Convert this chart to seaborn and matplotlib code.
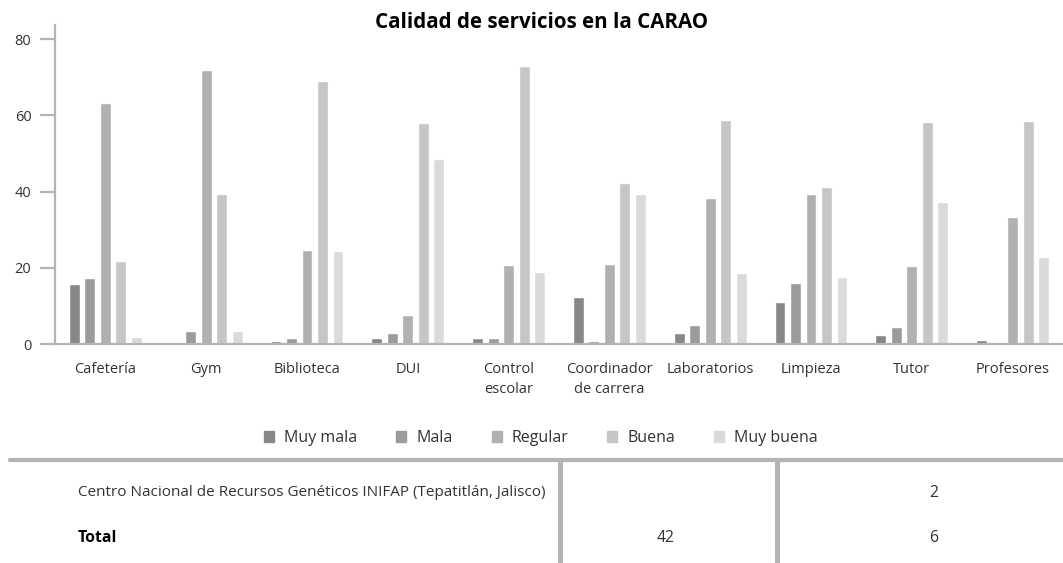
import pandas as pd
import matplotlib
matplotlib.use('Agg')
import matplotlib.pyplot as plt
from matplotlib.lines import Line2D
from matplotlib.patches import Patch
import seaborn as sns

# Datos (porcentaje por servicio)
servicios = ['Cafetería', 'Gym', 'Biblioteca', 'DUI', 'Control\nescolar',
             'Coordinador\nde carrera', 'Laboratorios', 'Limpieza', 'Tutor', 'Profesores']
niveles = ['Muy mala', 'Mala', 'Regular', 'Buena', 'Muy buena']
muy_mala = [15.7, 0, 0.8, 1.6, 1.6, 12.3, 2.9, 11.0, 2.4, 1.0]
mala = [17.3, 3.4, 1.6, 2.9, 1.6, 0.8, 5.0, 16.0, 4.5, 0.5]
regular = [63.3, 71.9, 24.7, 7.6, 20.7, 21.0, 38.3, 39.4, 20.5, 33.3]
buena = [21.8, 39.4, 69.0, 58.0, 73.0, 42.3, 58.8, 41.2, 58.3, 58.5]
muy_buena = [1.8, 3.4, 24.4, 48.6, 18.9, 39.4, 18.6, 17.6, 37.3, 22.8]
colores = ['#878787', '#9b9b9b', '#b0b0b0', '#c6c6c6', '#dadada']

# Tabla inferior
fila_centro = 'Centro Nacional de Recursos Genéticos INIFAP (Tepatitlán, Jalisco)'
total_col1 = '42'
total_col2 = '6'
centro_col2 = '2'

rows = []
for nivel, valores in zip(niveles, [muy_mala, mala, regular, buena, muy_buena]):
    for s, v in zip(servicios, valores):
        rows.append({'Servicio': s, 'Calificación': nivel, 'Valor': v})
df = pd.DataFrame(rows)

sns.set_theme(style='white')
plt.rcParams['font.family'] = ['Open Sans', 'DejaVu Sans']

W, H = 1063, 563
fig = plt.figure(figsize=(W / 100, H / 100), dpi=100)
ax = fig.add_axes([55 / W, 1 - 344 / H, 1 - 55 / W, (344 - 25) / H])

sns.barplot(data=df, x='Servicio', y='Valor', hue='Calificación', order=servicios,
            hue_order=niveles, palette=colores, width=0.77, gap=0.3,
            errorbar=None, legend=False, ax=ax, saturation=1)

ax.set_xlim(-0.5, 9.5)
ax.set_ylim(0, 83.7)
ax.set_yticks([0, 20, 40, 60, 80])
ax.set_xlabel('')
ax.set_ylabel('')
for side in ['top', 'right']:
    ax.spines[side].set_visible(False)
for side in ['left', 'bottom']:
    ax.spines[side].set_color('#b4b4b4')
    ax.spines[side].set_linewidth(1.6)
ax.tick_params(axis='y', length=11, width=1.6, color='#b4b4b4', pad=6,
               labelsize=10.5, labelcolor='#333333', left=True)
ax.tick_params(axis='x', length=0, pad=13, labelsize=10.5, labelcolor='#333333')
for lbl in ax.get_xticklabels():
    lbl.set_linespacing(1.45)

fig.text(542 / W, 1 - 23 / H, 'Calidad de servicios en la CARAO', ha='center', va='center',
         fontsize=14.8, fontweight='bold', color='black')

handles = [Patch(color=c) for c in colores]
fig.legend(handles, niveles, loc='center', bbox_to_anchor=(541 / W, 1 - 438 / H), ncol=5,
           frameon=False, handlelength=0.62, handleheight=0.62, handletextpad=0.62,
           columnspacing=2.45, prop={'size': 11.5}, labelcolor='#333333')

# lineas de la tabla
fig.add_artist(Line2D([10 / W, 1], [1 - 460 / H] * 2, color='#b4b4b4', lw=3))
for xv in [560, 777]:
    fig.add_artist(Line2D([xv / W] * 2, [1 - 462 / H, 0], color='#b4b4b4', lw=3.6))

fs = 11.3
fig.text(78 / W, 1 - 493 / H, fila_centro, ha='left', va='center', fontsize=11.0,
         color='#333333')
fig.text(934 / W, 1 - 493 / H, centro_col2, ha='center', va='center', fontsize=fs,
         color='#333333')
fig.text(78 / W, 1 - 538 / H, 'Total', ha='left', va='center', fontsize=fs,
         color='black', fontweight='bold')
fig.text(666 / W, 1 - 538 / H, total_col1, ha='center', va='center', fontsize=fs,
         color='#333333')
fig.text(934 / W, 1 - 538 / H, total_col2, ha='center', va='center', fontsize=fs,
         color='#333333')

fig.savefig('out.png', dpi=100)
